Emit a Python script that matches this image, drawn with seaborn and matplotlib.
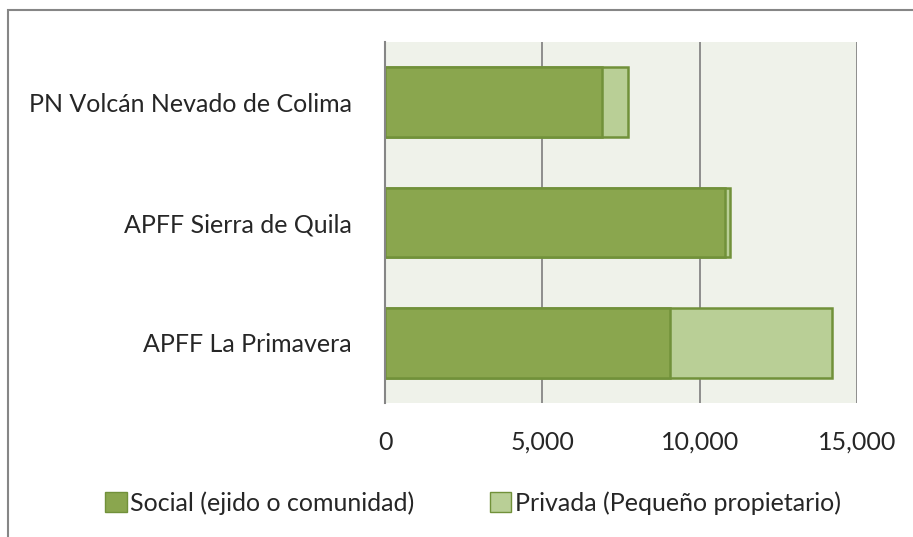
import pandas as pd
import matplotlib.pyplot as plt
import matplotlib.patches as mpatches
import seaborn as sns

areas = ["PN Volcán Nevado de Colima", "APFF Sierra de Quila", "APFF La Primavera"]
social = [6890, 10820, 9050]
privada = [820, 130, 5140]
series_names = ["Social (ejido o comunidad)", "Privada (Pequeño propietario)"]
x_ticks = [0, 5000, 10000, 15000]


def main():
    sns.set_style("white")
    plt.rcParams["font.family"] = ["Lato", "DejaVu Sans"]

    df = pd.DataFrame({"area": areas, "social": social, "privada": privada})
    df["total"] = df["social"] + df["privada"]

    fig = plt.figure(figsize=(9.13, 5.37), dpi=100)
    ax = fig.add_axes([0.4217, 0.2495, 0.517, 0.672])
    ax.set_facecolor("#eff2ea")

    dark = "#8aa64e"
    light = "#b9cf96"
    edge = "#71913a"

    # stacked: draw totals first, then social on top
    sns.barplot(data=df, x="total", y="area", order=areas, color=light,
                edgecolor=edge, linewidth=1.8, width=0.58, ax=ax, saturation=1)
    sns.barplot(data=df, x="social", y="area", order=areas, color=dark,
                edgecolor=edge, linewidth=1.8, width=0.58, ax=ax, saturation=1)

    ax.set_xlim(0, 15000)
    ax.set_xticks(x_ticks)
    ax.set_xticklabels([f"{t:,}" for t in x_ticks], fontsize=18)
    ax.tick_params(axis="y", labelsize=18, length=0, pad=24)
    ax.tick_params(axis="x", length=0, pad=20)
    ax.set_xlabel("")
    ax.set_ylabel("")
    ax.xaxis.grid(True, color="#868686", linewidth=1.3)
    ax.set_axisbelow(True)
    for s in ["top", "right", "bottom"]:
        ax.spines[s].set_visible(False)
    ax.spines["left"].set_color("#868686")
    ax.spines["left"].set_linewidth(1.5)

    handles = [mpatches.Patch(facecolor=dark, edgecolor=edge, label=series_names[0]),
               mpatches.Patch(facecolor=light, edgecolor=edge, label=series_names[1])]
    fig.legend(handles=handles, loc="center", bbox_to_anchor=(0.518, 0.063), ncol=2,
               frameon=False, fontsize=18, handlelength=0.85, handleheight=0.85,
               handletextpad=0.15, columnspacing=3.0)

    # chart border
    fig.add_artist(mpatches.Rectangle((8 / 913, -0.1), 1.2, 1 - 10 / 537 + 0.1,
                                      transform=fig.transFigure, fill=False,
                                      edgecolor="#868686", linewidth=1.5))

    fig.savefig("out.png", dpi=100)
    plt.close()


if __name__ == "__main__":
    main()
